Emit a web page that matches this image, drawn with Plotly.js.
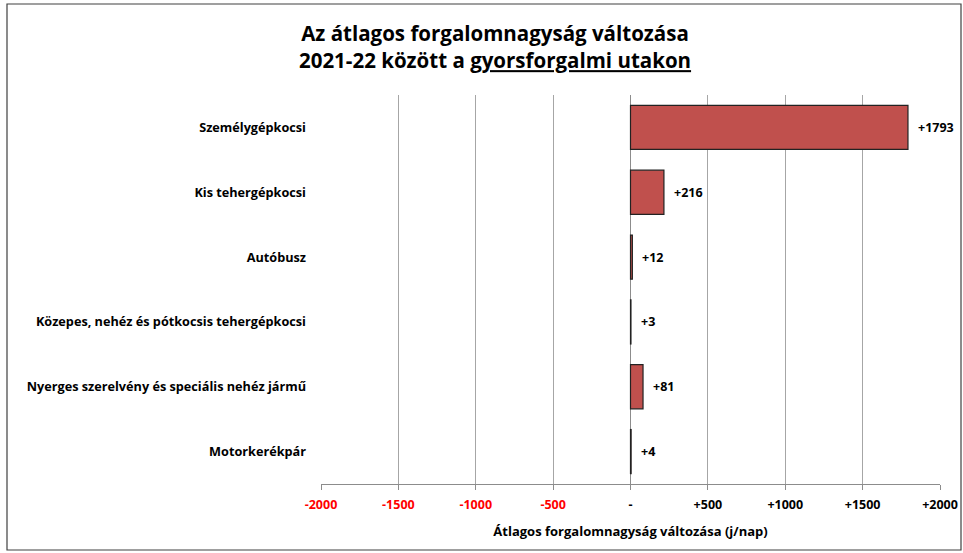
<!DOCTYPE html>
<html>
<head>
<meta charset="utf-8">
<script src="https://cdn.plot.ly/plotly-3.0.1.min.js"></script>
<style>html,body{margin:0;padding:0;background:#fff;}#chart{width:963px;height:553px;}</style>
</head>
<body>
<div id="chart"></div>
<script>
const categories = [
  "Személygépkocsi",
  "Kis tehergépkocsi",
  "Autóbusz",
  "Közepes, nehéz és pótkocsis tehergépkocsi",
  "Nyerges szerelvény és speciális nehéz jármű",
  "Motorkerékpár"
];
const values = [1793, 216, 12, 3, 81, 4];
const tickValues = [-2000, -1500, -1000, -500, 0, 500, 1000, 1500, 2000];
const tickLabels = ["-2000", "-1500", "-1000", "-500", "-", "+500", "+1000", "+1500", "+2000"];

const FONT = "Open Sans, Noto Sans, sans-serif";
const labels = values.map(v => (v > 0 ? "+" : "") + v);
const ticktext = tickLabels.map((t, i) =>
  tickValues[i] < 0 ? '<span style="color:#ff0000">' + t + '</span>' : t);

const trace = {
  type: "bar",
  orientation: "h",
  y: categories,
  x: values,
  marker: {color: "#C0504D", line: {color: "#222", width: 1.2}},
  hoverinfo: "x+y"
};

const L = 321, R = 940, T = 95, B = 484, W = 963, H = 553;
const pw = R - L, ph = B - T;
const px = v => (v - L) / pw;
const py = v => (B - v) / ph;

const valueAnnotations = values.map((v, i) => ({
  x: v, y: categories[i], xref: "x", yref: "y",
  text: labels[i], showarrow: false,
  xanchor: "left", yanchor: "middle", xshift: 8,
  font: {family: FONT, size: 12.5, color: "#000", weight: "bold"}
}));

const layout = {
  width: W, height: H,
  margin: {l: L, r: W - R, t: T, b: H - B, pad: 0},
  paper_bgcolor: "#fff",
  plot_bgcolor: "#fff",
  showlegend: false,
  bargap: 0.32,
  font: {family: FONT, size: 12, color: "#000"},
  title: {
    text: "Az átlagos forgalomnagyság változása<br>2021-22 között a <u>gyorsforgalmi utakon</u>",
    font: {family: FONT, size: 20.5, color: "#000", weight: "bold"},
    x: 495 / W, xref: "container", xanchor: "center",
    y: 0.925, yref: "container", yanchor: "top"
  },
  xaxis: {
    range: [-2000, 2000],
    tickmode: "array",
    tickvals: tickValues,
    ticktext: ticktext,
    tickfont: {family: FONT, size: 12.5, color: "#000", weight: "bold"},
    ticklabelstandoff: 4,
    showgrid: true,
    gridcolor: "#a6a6a6",
    gridwidth: 1,
    zeroline: true,
    zerolinecolor: "#8c8c8c",
    zerolinewidth: 1.5,
    showline: true,
    linecolor: "#8c8c8c",
    linewidth: 1,
    ticks: "outside",
    ticklen: 5,
    tickcolor: "#8c8c8c",
    fixedrange: true,
    title: {
      text: "Átlagos forgalomnagyság változása (j/nap)",
      font: {family: FONT, size: 13, color: "#000", weight: "bold"},
      standoff: 14
    }
  },
  yaxis: {
    autorange: "reversed",
    type: "category",
    showgrid: false,
    showline: false,
    zeroline: false,
    ticks: "",
    ticklabelstandoff: 14,
    tickfont: {family: FONT, size: 12.7, color: "#000", weight: "bold"},
    fixedrange: true
  },
  annotations: valueAnnotations,
  shapes: [{
    type: "rect", xref: "paper", yref: "paper",
    x0: px(7), x1: px(961), y0: py(550), y1: py(4),
    line: {color: "#404040", width: 1.2},
    fillcolor: "rgba(0,0,0,0)",
    layer: "below"
  }]
};

Plotly.newPlot("chart", [trace], layout, {displayModeBar: false, staticPlot: true});
</script>
</body>
</html>
